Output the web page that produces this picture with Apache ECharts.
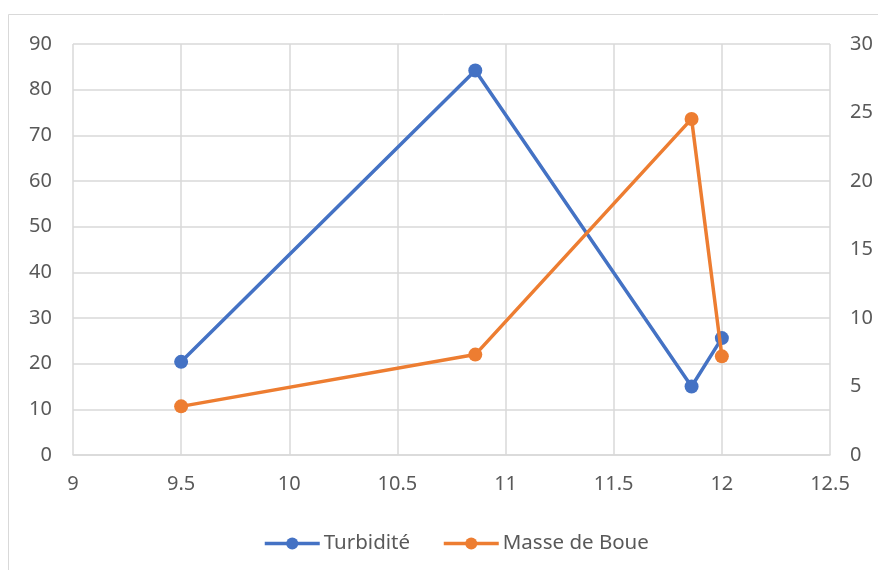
<!DOCTYPE html>
<html>
<head>
<meta charset="utf-8">
<script src="https://cdn.jsdelivr.net/npm/echarts@6/dist/echarts.min.js"></script>
<style>
  html, body { margin: 0; padding: 0; background: #fff; }
  #chart { width: 878px; height: 570px; }
</style>
</head>
<body>
<div id="chart"></div>
<script>
// pH values (x) and the two measured series
const phTurbidite = [9.5, 10.86, 11.86, 12];
const turbidite = [20.4, 84.2, 15.0, 25.6];
const phBoue = [9.5, 10.86, 11.86, 12];
const masseBoue = [3.55, 7.33, 24.53, 7.2];

const seriesNames = ['Turbidité', 'Masse de Boue'];

const pairs = (xs, ys) => xs.map((x, i) => [x, ys[i]]);

const fontFamily = 'Noto Sans, sans-serif';
const labelStyle = { color: '#595959', fontSize: 20, fontFamily: fontFamily };
const gridColor = '#d9d9d9';

const chart = echarts.init(document.getElementById('chart'), null, { renderer: 'canvas' });
chart.setOption({
  backgroundColor: '#fff',
  animation: false,
  graphic: [{
    type: 'rect',
    shape: { x: 8.5, y: 14.5, width: 880, height: 570 },
    style: { fill: 'none', stroke: gridColor, lineWidth: 1 },
    silent: true
  }],
  grid: { left: 73, right: 48, top: 44, bottom: 115 },
  legend: {
    top: 533,
    left: 263,
    padding: 0,
    itemWidth: 55,
    itemHeight: 15,
    itemGap: 32,
    lineStyle: { width: 3.5 },
    textStyle: { color: '#595959', fontSize: 20.5, fontFamily: fontFamily, padding: [0, 0, 0, -1] },
    data: seriesNames
  },
  xAxis: {
    type: 'value',
    min: 9, max: 12.5, interval: 0.5,
    axisLine: { show: true, lineStyle: { color: gridColor, width: 1.5 } },
    axisTick: { show: false },
    splitLine: { show: true, lineStyle: { color: gridColor, width: 1.5 } },
    axisLabel: Object.assign({ margin: 19 }, labelStyle)
  },
  yAxis: [{
    type: 'value',
    min: 0, max: 90, interval: 10,
    axisLine: { show: false },
    axisTick: { show: false },
    splitLine: { show: true, lineStyle: { color: gridColor, width: 1.5 } },
    axisLabel: Object.assign({ margin: 21 }, labelStyle)
  }, {
    type: 'value',
    min: 0, max: 30, interval: 5,
    position: 'right',
    axisLine: { show: false },
    axisTick: { show: false },
    splitLine: { show: false },
    axisLabel: Object.assign({ margin: 20 }, labelStyle)
  }],
  series: [{
    name: seriesNames[0],
    type: 'line',
    yAxisIndex: 0,
    data: pairs(phTurbidite, turbidite),
    symbol: 'circle',
    symbolSize: 14,
    itemStyle: { color: '#4472C4' },
    lineStyle: { color: '#4472C4', width: 3.5 },
    z: 2
  }, {
    name: seriesNames[1],
    type: 'line',
    yAxisIndex: 1,
    data: pairs(phBoue, masseBoue),
    symbol: 'circle',
    symbolSize: 14,
    itemStyle: { color: '#ED7D31' },
    lineStyle: { color: '#ED7D31', width: 3.5 },
    z: 3
  }]
});
</script>
</body>
</html>
